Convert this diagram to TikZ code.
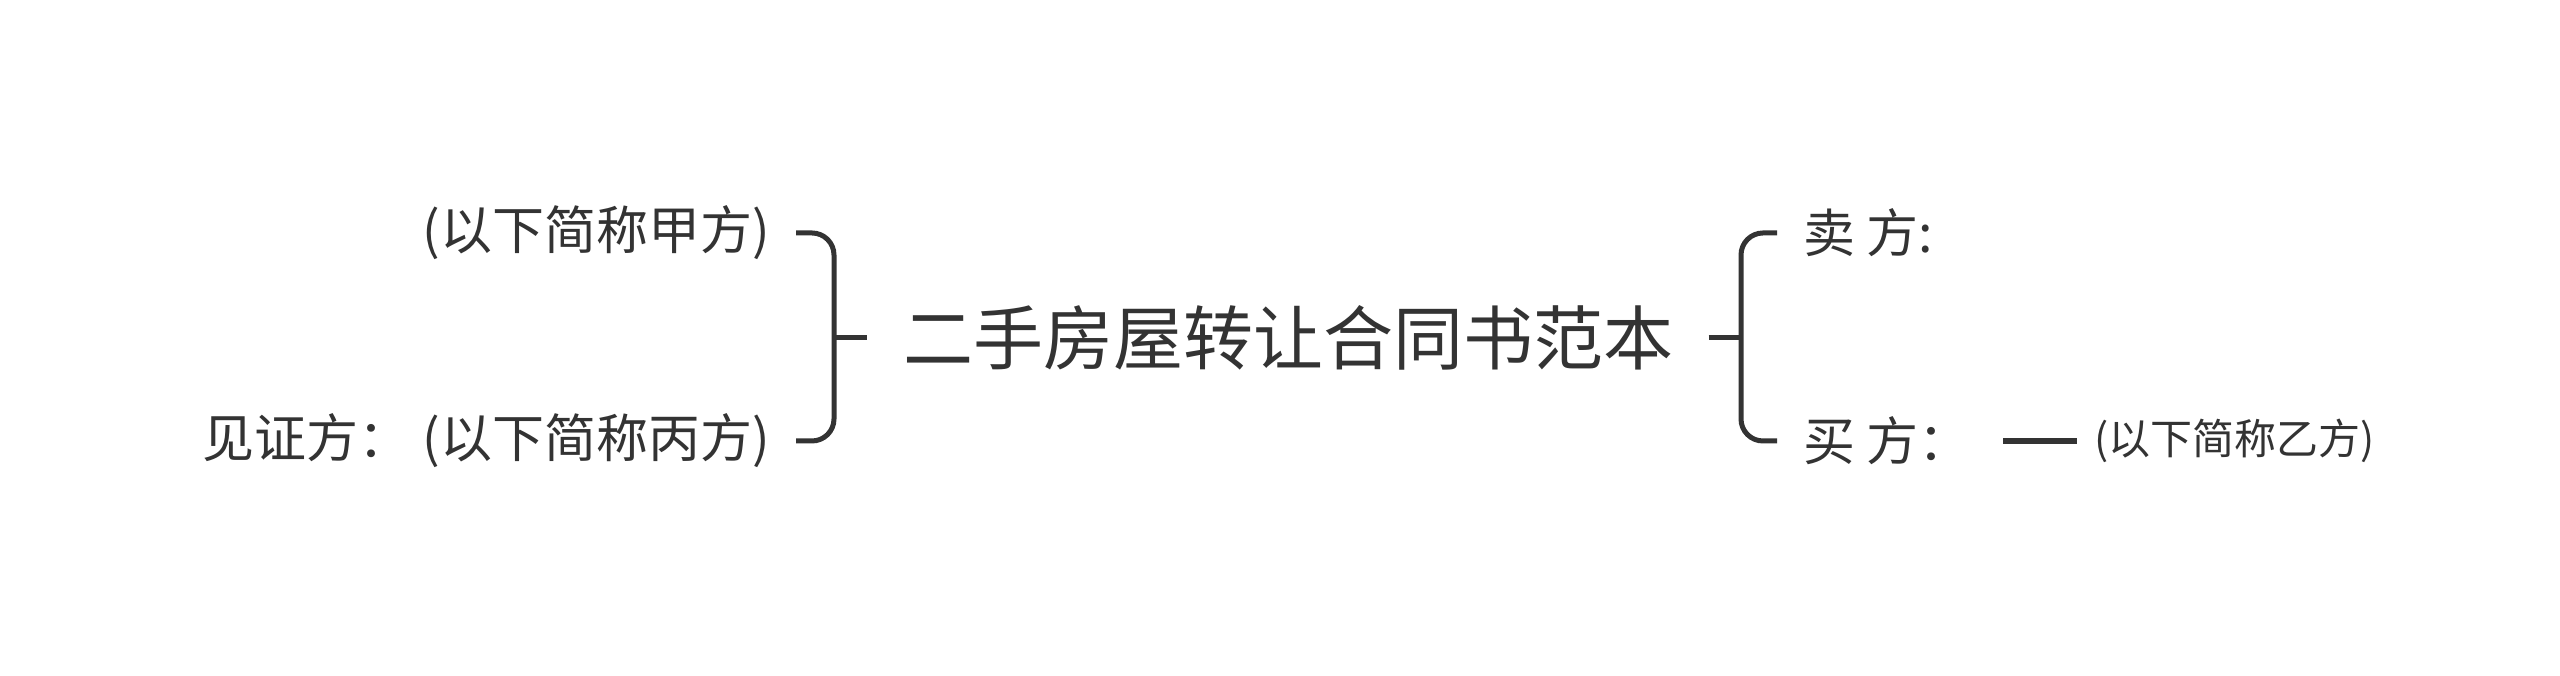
\documentclass[tikz,border=0pt]{standalone}
\usepackage{fontspec}
\setmainfont{Noto Sans CJK SC}
\usepackage{tikz}
\usetikzlibrary{positioning}
\definecolor{ink}{HTML}{333333}

\begin{document}
\begin{tikzpicture}[x=0.3pt,y=0.3pt,
      every node/.style={text=ink,inner ysep=0pt},
      topic/.style={font=\fontsize{21}{25}\selectfont,inner xsep=10.5pt},
      party/.style={font=\fontsize{15.6}{19}\selectfont,inner xsep=7.7pt},
      note/.style={font=\fontsize{12.6}{15}\selectfont,inner xsep=5pt},
      brace/.style={draw=ink,line width=1.5pt,rounded corners=6.6pt},
      bar/.style={draw=ink,line width=2pt,shorten <=1.8pt}]

      \fill[white] (0,0) rectangle (2560,676);
      \useasboundingbox (0,0) rectangle (2560,676);

      % main topic
      \node[topic] (title) at (1288,338) {二手房屋转让合同书范本};
      \coordinate (lj) at (834,338);
      \coordinate (rj) at (1741,338);

      % left side
      \node[party,anchor=east] (jia) at (796,443) {(以下简称甲方)};
      \node[party,anchor=east] (bing) at (796,235) {见证方： (以下简称丙方)};

      % right side
      \node[party,anchor=west] (seller) at (1777,443) {卖 方:};
      \node[party,anchor=west] (buyer) at (1777,235) {买 方：};
      \node[note,anchor=west] (yi) at (2077,235) {(以下简称乙方)};

      % left brace
      \draw[brace] (jia.east) -| (lj) |- (bing.east);
      \draw[brace] (lj) -- (title.west);
      % right brace
      \draw[brace] (title.east) -- (rj);
      \draw[brace] (seller.west) -| (rj) |- (buyer.west);
      % buyer note
      \draw[bar] (buyer.east) -- (yi.west);
\end{tikzpicture}
\end{document}
